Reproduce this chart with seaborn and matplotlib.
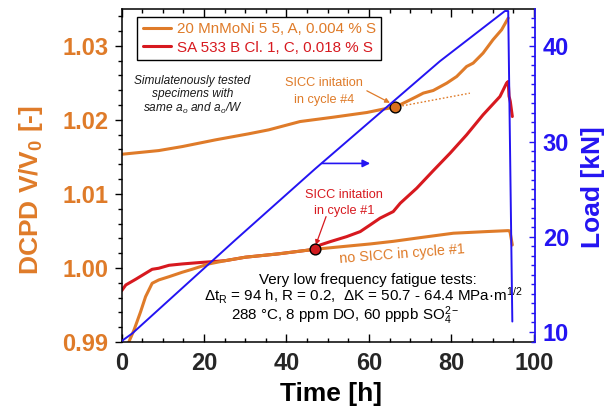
import matplotlib
matplotlib.use("Agg")
import matplotlib.pyplot as plt
import seaborn as sns
from matplotlib.lines import Line2D
from matplotlib.ticker import MultipleLocator, FormatStrFormatter

# ---- data -------------------------------------------------------------
# 20 MnMoNi 5 5 (A), cycle #4: DCPD V/V0
a4_time = [0.2, 9.0, 14.7, 22.8, 30.8, 35.7, 43.3, 51.4, 59.5, 63.5, 66.3, 69.2,
           71.6, 73.2, 75.6, 78.9, 81.3, 83.7, 85.3, 87.7, 90.1, 92.2, 93.8]
a4_dcpd = [1.01536, 1.01585, 1.01639, 1.01730, 1.01811, 1.01865, 1.01977, 1.02036,
           1.02099, 1.02145, 1.02170, 1.02248, 1.02315, 1.02361, 1.02396, 1.02496,
           1.02585, 1.02720, 1.02766, 1.02901, 1.03081, 1.03216, 1.03374]

# 20 MnMoNi 5 5 (A), cycle #1
a1_time = [1.6, 3.0, 4.6, 5.8, 7.4, 9.0, 11.5, 14.7, 17.1, 21.1, 25.2, 30.0, 38.0,
           47.0, 52.0, 60.3, 66.0, 72.4, 80.5, 88.5, 93.8, 94.2, 94.8]
a1_dcpd = [0.98982, 0.99162, 0.99409, 0.99612, 0.99793, 0.99838, 0.99882, 0.99942,
           0.99982, 1.00054, 1.00099, 1.00145, 1.00190, 1.00253, 1.00280, 1.00324,
           1.00360, 1.00409, 1.00469, 1.00491, 1.00504, 1.00500, 1.00310]

# SA 533 B Cl. 1 (C), cycle #1
c1_time = [0.0, 1.0, 3.4, 5.8, 7.4, 9.0, 11.5, 14.7, 18.7, 22.0, 25.2, 30.0, 38.0,
           47.0, 48.2, 50.6, 54.6, 57.9, 60.3, 62.7, 65.9, 67.6, 71.6, 75.6, 79.7,
           83.7, 87.7, 91.8, 93.4, 93.8, 94.0, 94.3, 94.8]
c1_dcpd = [0.99693, 0.99770, 0.99847, 0.99928, 0.99982, 0.99996, 1.00036, 1.00054,
           1.00072, 1.00085, 1.00099, 1.00145, 1.00190, 1.00253, 1.00311, 1.00355,
           1.00423, 1.00491, 1.00581, 1.00672, 1.00761, 1.00874, 1.01077, 1.01313,
           1.01550, 1.01797, 1.02068, 1.02315, 1.02496, 1.02518, 1.02320, 1.02250,
           1.02045]

# applied load
load_time = [0.0, 2.6, 27.6, 47.0, 77.2, 93.0, 93.8, 94.8]
load_kn = [9.05, 9.86, 19.67, 27.15, 38.42, 43.70, 43.70, 11.10]

# crack initiation points and extrapolated trend of cycle #4
init4_time, init4_dcpd = [66.3], [1.0217]
init1_time, init1_dcpd = [47.0], [1.0025]
trend4_time = [66.3, 84.5]
trend4_dcpd = [1.0217, 1.0236]

# load arrow (towards right axis)
load_arrow_time = [48.6, 60.3]
load_arrow_kn = 27.7

x_ticks = [0, 20, 40, 60, 80, 100]
dcpd_ticks = [0.99, 1.00, 1.01, 1.02, 1.03]
load_ticks = [10, 20, 30, 40]

legend_labels = ["20 MnMoNi 5 5, A, 0.004 % S", "SA 533 B Cl. 1, C, 0.018 % S"]

# ---- style ------------------------------------------------------------
ORANGE = "#DF7B29"
RED = "#D7191F"
BLUE = "#2414F2"

sns.set_theme(style="white")
plt.rcParams["font.family"] = ["Liberation Sans", "DejaVu Sans"]
plt.rcParams["mathtext.default"] = "regular"
plt.rcParams["axes.linewidth"] = 1.1

fig = plt.figure(figsize=(6.16, 4.09), dpi=100)
ax = fig.add_axes([0.1975, 0.1638, 0.6710, 0.8130])
ax2 = ax.twinx()

# ---- curves -----------------------------------------------------------
sns.lineplot(x=c1_time, y=c1_dcpd, ax=ax, color=RED, lw=2.2, sort=False, estimator=None)
sns.lineplot(x=a1_time, y=a1_dcpd, ax=ax, color=ORANGE, lw=2.2, sort=False, estimator=None)
sns.lineplot(x=a4_time, y=a4_dcpd, ax=ax, color=ORANGE, lw=2.2, sort=False, estimator=None)
ax.plot(trend4_time, trend4_dcpd, color=ORANGE, lw=1.0, ls=(0, (1.2, 1.5)))

sns.scatterplot(x=init4_time, y=init4_dcpd, ax=ax, color="#D9701F", s=60,
                edgecolor="black", linewidth=1.0, zorder=5)
sns.scatterplot(x=init1_time, y=init1_dcpd, ax=ax, color="#D11A1F", s=60,
                edgecolor="black", linewidth=1.0, zorder=5)

sns.lineplot(x=load_time, y=load_kn, ax=ax2, color=BLUE, lw=1.4, sort=False, estimator=None)
ax2.annotate("", xy=(load_arrow_time[1], load_arrow_kn),
             xytext=(load_arrow_time[0], load_arrow_kn),
             arrowprops=dict(arrowstyle="-|>", color=BLUE, lw=1.2,
                             mutation_scale=11, shrinkA=0, shrinkB=0))

# ---- axes -------------------------------------------------------------
ax.set_xlim(0, 100.3)
ax.set_ylim(0.99, 1.0349)
ax2.set_ylim(8.95, 43.86)

ax.set_xticks(x_ticks)
ax.set_yticks(dcpd_ticks)
ax2.set_yticks(load_ticks)
ax.xaxis.set_minor_locator(MultipleLocator(5))
ax.yaxis.set_minor_locator(MultipleLocator(0.002))
ax2.yaxis.set_minor_locator(MultipleLocator(1))
ax.yaxis.set_major_formatter(FormatStrFormatter("%.2f"))

ax.tick_params(axis="x", which="both", direction="in", top=True, bottom=True,
               color="black", width=1.0)
ax.tick_params(axis="x", which="major", length=5.5, labelsize=17, pad=7.5)
ax.tick_params(axis="x", which="minor", length=3.2)
ax.tick_params(axis="y", which="both", direction="out", left=True, right=False,
               color="black", width=1.0)
ax.tick_params(axis="y", which="major", length=5, labelsize=17, labelcolor=ORANGE, pad=4.5)
ax.tick_params(axis="y", which="minor", length=3)
for lab in ax.get_xticklabels() + ax.get_yticklabels():
    lab.set_fontweight("bold")

ax2.tick_params(axis="y", which="both", direction="in", right=True, left=False,
                color=BLUE, width=1.0)
ax2.tick_params(axis="y", which="major", length=4.5, labelsize=17, labelcolor=BLUE, pad=5.5)
ax2.tick_params(axis="y", which="minor", length=2.6)
for lab in ax2.get_yticklabels():
    lab.set_fontweight("bold")

for side in ["left", "top", "bottom"]:
    ax.spines[side].set_color("black")
ax.spines["right"].set_visible(False)
ax2.spines["right"].set_color(BLUE)
ax2.spines["right"].set_linewidth(1.3)
for side in ["left", "top", "bottom"]:
    ax2.spines[side].set_visible(False)

ax.set_xlabel("Time [h]", fontsize=19, fontweight="bold", color="black")
ax.xaxis.set_label_coords(0.506, -0.12)
ax.set_ylabel("DCPD V/V$_0$ [-]", fontsize=19, fontweight="bold", color=ORANGE)
ax.yaxis.set_label_coords(-0.185, 0.457)
ax2.set_ylabel("Load [kN]", fontsize=19, fontweight="bold", color=BLUE)
ax2.yaxis.set_label_coords(1.111, 0.465)

# ---- legend -----------------------------------------------------------
handles = [Line2D([0], [0], color=ORANGE, lw=2.2), Line2D([0], [0], color=RED, lw=2.2)]
leg = ax.legend(handles, legend_labels, loc="upper left", bbox_to_anchor=(0.038, 0.978),
                borderaxespad=0, fontsize=10.9, frameon=True, fancybox=False,
                edgecolor="black", framealpha=1, handlelength=1.9, handletextpad=0.35,
                borderpad=0.35, labelspacing=0.3)
leg.get_frame().set_linewidth(1.0)
for txt, col in zip(leg.get_texts(), [ORANGE, RED]):
    txt.set_color(col)

# ---- annotations ------------------------------------------------------
for s, y in [("Simulatenously tested", 1.02486), ("specimens with", 1.02315),
             ("same a$_o$ and a$_o$/W", 1.02112)]:
    ax.text(17.2, y, s, ha="center", va="baseline", fontsize=8.6, style="italic",
            color="#1a1a1a")

ax.text(49.2, 1.02459, "SICC initation", ha="center", va="baseline", fontsize=9.2, color=ORANGE)
ax.text(49.2, 1.02234, "in cycle #4", ha="center", va="baseline", fontsize=9.2, color=ORANGE)
ax.annotate("", xy=(65.1, 1.0223), xytext=(59.5, 1.02392),
            arrowprops=dict(arrowstyle="-|>", color=ORANGE, lw=0.9,
                            mutation_scale=7, shrinkA=0, shrinkB=0))

ax.text(53.9, 1.00942, "SICC initation", ha="center", va="baseline", fontsize=9.2, color=RED)
ax.text(53.9, 1.00726, "in cycle #1", ha="center", va="baseline", fontsize=9.2, color=RED)
ax.annotate("", xy=(47.1, 1.0031), xytext=(49.6, 1.00693),
            arrowprops=dict(arrowstyle="-|>", color=RED, lw=0.9,
                            mutation_scale=7, shrinkA=0, shrinkB=0))

ax.text(67.97, 1.00189, "no SICC in cycle #1", ha="center", va="center", fontsize=10.3,
        color=ORANGE, rotation=4.5, rotation_mode="anchor")

ax.text(59.7, 0.99784, "Very low frequency fatigue tests:", ha="center", va="baseline",
        fontsize=10.9, color="black")
ax.text(58.6, 0.99545, "Δt$_R$ = 94 h, R = 0.2,  ΔK = 50.7 - 64.4 MPa·m$^{1/2}$",
        ha="center", va="baseline", fontsize=10.9, color="black")
ax.text(54.3, 0.99297, "288 °C, 8 ppm DO, 60 pppb SO$_4^{2-}$", ha="center",
        va="baseline", fontsize=10.9, color="black")

fig.savefig("out.png", dpi=100)
